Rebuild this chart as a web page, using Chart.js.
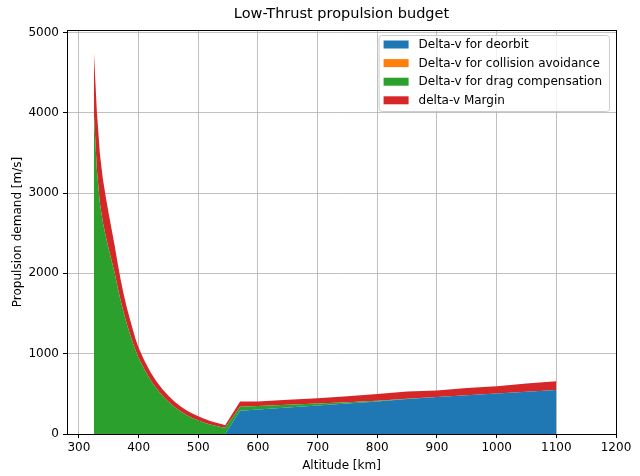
<!DOCTYPE html>
<html><head><meta charset="utf-8">
<script src="https://cdn.jsdelivr.net/npm/chart.js@4.4.0/dist/chart.umd.min.js"></script>
<style>html,body{margin:0;padding:0;background:#fff}#wrap{width:640px;height:476px}</style>
</head><body><div id="wrap"><canvas id="c" width="640" height="476"></canvas></div>
<script>
// Altitude grid [km]
const altitudes = [325,330,335,340,345,350,355,360,365,370,375,380,385,390,395,400,
  410,420,430,440,450,460,470,480,490,500,510,520,530,540,545,
  570,600,650,700,750,800,850,900,950,1000,1050,1100];
// Delta-v components [m/s]
const deorbit = [0,0,0,0,0,0,0,0,0,0,0,0,0,0,0,0,
  0,0,0,0,0,0,0,0,0,0,0,0,0,0,0,
  290,305,330,355,380,405,435,460,483,505,527,547];
const collision = [0,0,0,0,0,0,0,0,0,0,0,0,0,0,0,0,
  0,0,0,0,0,0,0,0,0,0,0,0,0,0,0,
  0,0,0,0,0,0,0,0,0,0,0,0];
const drag = [4000,3300,2880,2640,2460,2300,2150,2000,1822,1659,1511,1376,1253,1141,1039,946,
  800,670,565,475,400,335,282,237,200,168,141,119,100,84,78,
  50,45,35,25,15,8,4,2,1,0,0,0];
const margin = [770,720,620,540,490,440,390,340,298,261,229,204,187,169,141,129,
  110,100,90,82,75,70,64,60,56,52,48,44,40,36,32,
  65,55,60,65,75,85,90,80,88,91,101,111];
const xTickValues = [300,400,500,600,700,800,900,1000,1100,1200];
const yTickValues = [0,1000,2000,3000,4000,5000];
const seriesNames = ['Delta-v for deorbit','Delta-v for collision avoidance','Delta-v for drag compensation','delta-v Margin'];
const seriesColors = ['#1f77b4','#ff7f0e','#2ca02c','#d62728'];
const chartTitle = 'Low-Thrust propulsion budget';
const xTitle = 'Altitude [km]';
const yTitle = 'Propulsion demand [m/s]';
const FONT = "'DejaVu Sans', sans-serif";

function pts(arr){ return altitudes.map((a,i)=>({x:a, y:arr[i]})); }
const datasets = [deorbit, collision, drag, margin].map((arr,i)=>({
  label: seriesNames[i], data: pts(arr), backgroundColor: seriesColors[i], borderColor: seriesColors[i],
  borderWidth: 0, pointRadius: 0, pointHoverRadius: 0, fill: i===0 ? 'origin' : '-1', tension: 0
}));

const framePlugin = {
  id: 'frame',
  afterDraw(chart){
    const {ctx, chartArea: ca} = chart;
    ctx.save();
    ctx.strokeStyle = '#000'; ctx.lineWidth = 1;
    ctx.strokeRect(Math.round(ca.left)+0.5, Math.round(ca.top)+0.5, Math.round(ca.right-ca.left), Math.round(ca.bottom-ca.top));
    ctx.restore();
  }
};
const legendPlugin = {
  id: 'mplLegend',
  afterDraw(chart){
    const {ctx, chartArea: ca} = chart;
    ctx.save();
    ctx.font = '12px ' + FONT;
    const items = chart.data.datasets.map(d=>({text:d.label, color:d.backgroundColor}));
    let maxW = 0; items.forEach(it=>{ maxW = Math.max(maxW, ctx.measureText(it.text).width); });
    const w = 40 + maxW + 7, rowH = 18.6, h = 76;
    const x0 = ca.right - 7 - w, y0 = ca.top + 5;
    ctx.beginPath();
    ctx.roundRect(x0+0.5, y0+0.5, w, h, 3);
    ctx.fillStyle = 'rgba(255,255,255,0.8)'; ctx.fill();
    ctx.strokeStyle = '#cccccc'; ctx.lineWidth = 1; ctx.stroke();
    items.forEach((it,i)=>{
      const cy = y0 + 9.5 + i*rowH;
      ctx.fillStyle = it.color;
      ctx.fillRect(x0+5, cy-4, 25, 8);
      ctx.fillStyle = '#000'; ctx.textBaseline = 'middle'; ctx.textAlign = 'left';
      ctx.fillText(it.text, x0+40, cy+0.5);
    });
    ctx.restore();
  }
};

new Chart(document.getElementById('c'), {
  type: 'line',
  data: { datasets },
  plugins: [framePlugin, legendPlugin],
  options: {
    responsive: false, animation: false,
    layout: { padding: { left: 0, right: 24, top: 0, bottom: 0 } },
    plugins: {
      legend: { display: false }, tooltip: { enabled: false },
      title: { display: true, text: chartTitle, fullSize: false, color: '#000',
        font: { family: FONT, size: 14.5, weight: 'normal' }, padding: { top: 6, bottom: 6.6 } }
    },
    scales: {
      x: { type: 'linear', min: 280, max: 1200, z: 1,
        afterBuildTicks(s){ s.ticks = xTickValues.map(v=>({value:v})); },
        ticks: { color: '#000', font: { family: FONT, size: 12 }, padding: 3, maxRotation: 0, autoSkip: false,
          callback: v => String(v) },
        grid: { color: '#b0b0b0', lineWidth: 0.8, tickLength: 4, tickColor: '#000', tickWidth: 1 },
        border: { display: false },
        title: { display: true, text: xTitle, color: '#000', font: { family: FONT, size: 12 }, padding: { top: 0, bottom: 3 } },
        afterFit(s){ s.height = 42; } },
      y: { stacked: true, min: 0, max: 5030, z: 1,
        afterBuildTicks(s){ s.ticks = yTickValues.map(v=>({value:v})); },
        ticks: { color: '#000', font: { family: FONT, size: 12 }, padding: 4, autoSkip: false,
          callback: v => String(v) },
        grid: { color: '#b0b0b0', lineWidth: 0.8, tickLength: 4, tickColor: '#000', tickWidth: 1 },
        border: { display: false },
        title: { display: true, text: yTitle, color: '#000', font: { family: FONT, size: 12 }, padding: { top: 11, bottom: 0 } },
        afterFit(s){ s.width = 67; } }
    }
  }
});
</script></body></html>
